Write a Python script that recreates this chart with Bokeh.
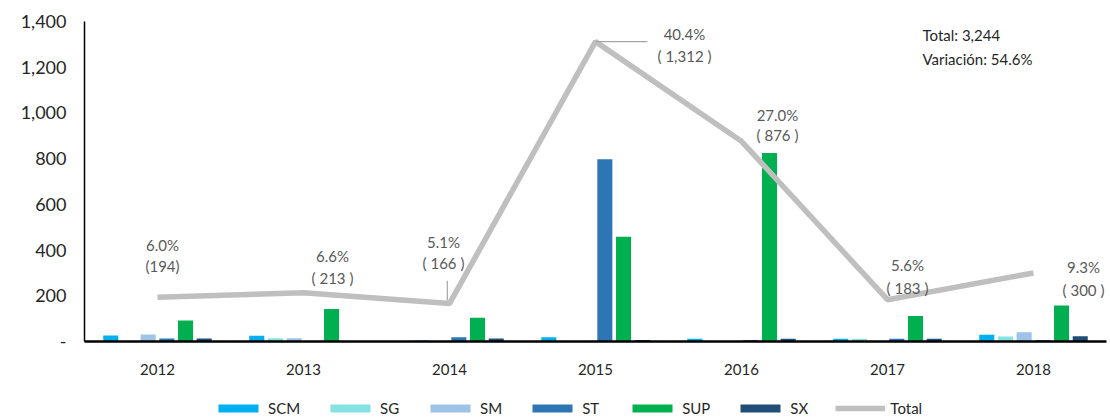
from bokeh.plotting import figure
from bokeh.layouts import column
from bokeh.models import (ColumnDataSource, Range1d, FactorRange, FixedTicker,
                          Legend, LegendItem, Label)
from bokeh.transform import dodge
from bokeh.core.properties import value
from bokeh.embed import file_html
from bokeh.resources import INLINE

# ---------------- data ----------------
years = ["2012", "2013", "2014", "2015", "2016", "2017", "2018"]
series_names = ["SCM", "SG", "SM", "ST", "SUP", "SX"]
scm = [26, 25, 0, 19, 12, 12, 29]
sg = [0, 14, 7, 0, 0, 12, 22]
sm = [31, 14, 0, 0, 0, 0, 41]
st = [13, 0, 19, 797, 7, 12, 7]
sup = [92, 142, 104, 458, 825, 112, 158]
sx = [13, 0, 13, 7, 12, 12, 23]
total = [194, 213, 166, 1312, 876, 183, 300]
pct_labels = ["6.0%", "6.6%", "5.1%", "40.4%", "27.0%", "5.6%", "9.3%"]
val_labels = ["(194)", "( 213 )", "( 166 )", "( 1,312 )", "( 876 )", "( 183 )", "( 300 )"]
y_ticks = [0, 200, 400, 600, 800, 1000, 1200, 1400]
y_tick_labels = ["-", "200", "400", "600", "800", "1,000", "1,200", "1,400"]
summary_lines = ["Total: 3,244", "Variación: 54.6%"]

# ---------------- styles ----------------
colors = ["#00B0F0", "#84E3E0", "#9DC3E6", "#2E75B6", "#00B050", "#1F4E79"]
line_color = "#BFBFBF"
FONT = "Lato"
bar_step = 0.128
bar_w = 0.103
lbl_dx = [5, 29, -6, 89, 36, 20, 50]
lbl_dy1 = [-52, -37, -62, -8, -26, -35, -6]
lbl_dy2 = [-31, -15, -41, 14, -6, -12, 17]

p = figure(width=1110, height=392, x_range=FactorRange(*years),
           y_range=Range1d(0, 1400), output_backend="svg",
           toolbar_location=None, min_border_left=84, min_border_right=4,
           min_border_top=21, min_border_bottom=51)
p.outline_line_color = None
p.xgrid.grid_line_color = None
p.ygrid.grid_line_color = None

data = dict(year=years, SCM=scm, SG=sg, SM=sm, ST=st, SUP=sup, SX=sx, total=total,
            pct=pct_labels, val=val_labels, dx=lbl_dx, dy1=lbl_dy1, dy2=lbl_dy2)
src = ColumnDataSource(data)

for i, (name, col) in enumerate(zip(series_names, colors)):
    off = (i - 2.5) * bar_step
    p.vbar(x=dodge("year", off, range=p.x_range), top=name, width=bar_w,
           source=src, fill_color=col, line_color=None)

p.line(x="year", y="total", source=src, line_color=line_color, line_width=5.5)

# leader lines
lead1 = ColumnDataSource(dict(x=[years[2]], y0=[total[2] + 100], y1=[total[2] + 13]))
p.segment(x0=dodge("x", -0.015, range=p.x_range), x1=dodge("x", -0.015, range=p.x_range),
          y0="y0", y1="y1", source=lead1, line_color="#A6A6A6", line_width=1.2)
lead2 = ColumnDataSource(dict(x=[years[3]], y=[total[3]]))
p.segment(x0="x", x1=dodge("x", 0.356, range=p.x_range), y0="y", y1="y",
          source=lead2, line_color="#A6A6A6", line_width=1.2)

# data labels
p.text(x="year", y="total", text="pct", x_offset="dx", y_offset="dy1", source=src,
       text_align="center", text_baseline="middle", text_font=value(FONT),
       text_font_size="15px", text_color="#595959")
p.text(x="year", y="total", text="val", x_offset="dx", y_offset="dy2", source=src,
       text_align="center", text_baseline="middle", text_font=value(FONT),
       text_font_size="15px", text_color="#595959")

# summary text
p.add_layout(Label(x=5.74, y=1339, text=summary_lines[0], text_font=FONT,
                   text_font_size="15px", text_color="#262626",
                   text_align="left", text_baseline="middle"))
p.add_layout(Label(x=5.74, y=1238, text=summary_lines[1], text_font=FONT,
                   text_font_size="15px", text_color="#262626",
                   text_align="left", text_baseline="middle"))

# axes
p.yaxis.ticker = FixedTicker(ticks=y_ticks)
p.yaxis.major_label_overrides = {t: l for t, l in zip(y_ticks, y_tick_labels)}
p.yaxis.major_tick_line_color = None
p.yaxis.minor_tick_line_color = None
p.yaxis.axis_line_color = "black"
p.yaxis.axis_line_width = 1.5
p.yaxis.major_label_text_font = FONT
p.yaxis.major_label_text_font_size = "18px"
p.yaxis.major_label_text_color = "#262626"
p.yaxis.major_label_standoff = 12

p.xaxis.major_tick_line_color = None
p.xaxis.minor_tick_line_color = None
p.xaxis.axis_line_color = "black"
p.xaxis.axis_line_width = 2.5
p.xaxis.major_label_text_font = FONT
p.xaxis.major_label_text_font_size = "15px"
p.xaxis.major_label_text_color = "#262626"
p.xaxis.major_label_standoff = 16

# ---------------- legend strip (same series, hidden) ----------------
q = figure(width=1110, height=25, x_range=FactorRange(*years), y_range=Range1d(-1000, -900),
           output_backend="svg", toolbar_location=None,
           x_axis_location=None, y_axis_location=None,
           min_border_left=0, min_border_right=0, min_border_top=0, min_border_bottom=0)
q.outline_line_color = None
q.xgrid.grid_line_color = None
q.ygrid.grid_line_color = None
proxies = []
for name, col in zip(series_names, colors):
    proxies.append(q.vbar(x="year", top=name, width=bar_w, source=src,
                          fill_color=col, line_color=None, visible=False))
proxies.append(q.line(x="year", y="total", source=src, line_color=line_color,
                      line_width=5.5, visible=False))

legend = Legend(items=[LegendItem(label=n, renderers=[r])
                       for n, r in zip(series_names + ["Total"], proxies)],
                orientation="horizontal", location=(129, 0),
                glyph_width=50, glyph_height=10, label_standoff=5, spacing=25,
                padding=2, margin=0, border_line_color=None,
                background_fill_alpha=0, label_text_font=FONT,
                label_text_font_size="15px", label_text_color="#262626")
q.add_layout(legend, "center")

open("out.html", "w").write(file_html(column(p, q, spacing=0), INLINE))
